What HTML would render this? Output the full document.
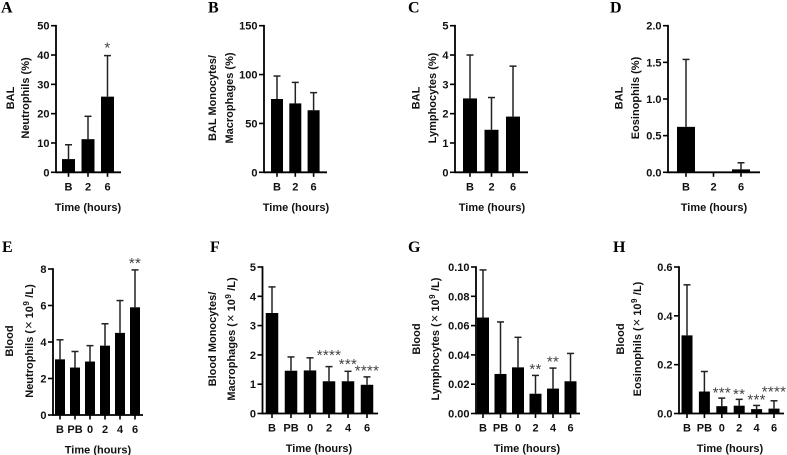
<!DOCTYPE html>
<html lang="en">
<head>
<meta charset="utf-8">
<title>Cell counts in BAL and blood over time</title>
<style>
html,body{margin:0;padding:0;background:#fff;width:787px;height:455px;overflow:hidden}
svg{display:block;filter:blur(0.35px)}
text{font-family:"Liberation Sans",sans-serif;font-weight:700;font-size:11px;fill:#111}
.letter{font-family:"Liberation Serif",serif;font-size:16px;fill:#000}
.star{font-weight:400;font-size:15px;fill:#444;letter-spacing:0.3px}
</style>
</head>
<body>
<svg id="figure" width="787" height="455" viewBox="0 0 787 455" xmlns="http://www.w3.org/2000/svg"></svg>
<script>
// ---- Data ----
const shortCats = ['B', '2', '6'];
const longCats = ['B', 'PB', '0', '2', '4', '6'];

const aTicks = ['0', '10', '20', '30', '40', '50'];
const aMeans = [4.5, 11.3, 25.8];
const aUpper = [9.4, 19.1, 39.8];
const aStars = ['', '', '*'];

const bTicks = ['0', '50', '100', '150'];
const bMeans = [75, 70.5, 63.5];
const bUpper = [98.5, 92, 81.5];
const bStars = ['', '', ''];

const cTicks = ['0', '1', '2', '3', '4', '5'];
const cMeans = [2.52, 1.45, 1.9];
const cUpper = [4.0, 2.55, 3.62];
const cStars = ['', '', ''];

const dTicks = ['0.0', '0.5', '1.0', '1.5', '2.0'];
const dMeans = [0.62, 0, 0.04];
const dUpper = [1.54, 0, 0.13];
const dStars = ['', '', ''];

const eTicks = ['0', '2', '4', '6', '8'];
const eMeans = [3.05, 2.6, 2.93, 3.8, 4.5, 5.9];
const eUpper = [4.12, 3.48, 3.8, 5.0, 6.27, 7.95];
const eStars = ['', '', '', '', '', '**'];

const fTicks = ['0', '1', '2', '3', '4', '5'];
const fMeans = [3.43, 1.46, 1.47, 1.1, 1.1, 0.98];
const fUpper = [4.32, 1.93, 1.9, 1.6, 1.44, 1.25];
const fStars = ['', '', '', '****', '***', '****'];

const gTicks = ['0.00', '0.02', '0.04', '0.06', '0.08', '0.10'];
const gMeans = [0.0655, 0.027, 0.0315, 0.0135, 0.017, 0.022];
const gUpper = [0.098, 0.0625, 0.052, 0.026, 0.031, 0.041];
const gStars = ['', '', '', '**', '**', ''];

const hTicks = ['0.0', '0.2', '0.4', '0.6'];
const hMeans = [0.32, 0.09, 0.03, 0.032, 0.018, 0.02];
const hUpper = [0.527, 0.172, 0.063, 0.058, 0.033, 0.052];
const hStars = ['', '', '***', '**', '***', '****'];

// ---- Panel layout ----
const panels = [
  {id:'a', letter:'A', lx:1,   ly:12.5, ax:56,    xEnd:121, top:25.7, base:172.3, first:68.5, step:19.5, bw:13,   cats:shortCats, ticks:aTicks, means:aMeans, upper:aUpper, stars:aStars, starNudge:[0,0,-3], title:['BAL','Neutrophils (%)'], tx:[10,25], ty:98, timeX:88},
  {id:'b', letter:'B', lx:208, ly:12.5, ax:264,   xEnd:327, top:25.7, base:172.3, first:277,  step:18.3, bw:12,   cats:shortCats, ticks:bTicks, means:bMeans, upper:bUpper, stars:bStars, starNudge:[0,0,0], title:['BAL Monocytes/','Macrophages (%)'], tx:[212,229], ty:98, timeX:296},
  {id:'c', letter:'C', lx:408, ly:12.5, ax:455,   xEnd:528, top:25.7, base:172.3, first:470,  step:21.5, bw:14,   cats:shortCats, ticks:cTicks, means:cMeans, upper:cUpper, stars:cStars, starNudge:[0,0,0], title:['BAL','Lymphocytes (%)'], tx:[415.5,432], ty:98, timeX:492},
  {id:'d', letter:'D', lx:610, ly:12.5, ax:668,   xEnd:760, top:25.7, base:172.3, first:686,  step:27.5, bw:18,   cats:shortCats, ticks:dTicks, means:dMeans, upper:dUpper, stars:dStars, starNudge:[0,0,0], title:['BAL','Eosinophils (%)'], tx:[618.5,635], ty:98, timeX:714},
  {id:'e', letter:'E', lx:2,   ly:252,  ax:53,    xEnd:143, top:269,  base:415,   first:60,   step:15,   bw:10,   cats:longCats,  ticks:eTicks, means:eMeans, upper:eUpper, stars:eStars, starNudge:[0,0,0,0,0,-2], title:['Blood','Neutrophils (× 10^9/L)'], tx:[9,29], ty:341, timeX:98},
  {id:'f', letter:'F', lx:210, ly:252,  ax:262.5, xEnd:378, top:267,  base:413.5, first:272,  step:19,   bw:12.5, cats:longCats,  ticks:fTicks, means:fMeans, upper:fUpper, stars:fStars, starNudge:[0,0,0,-6.5,-2.5,-1.5], title:['Blood Monocytes/','Macrophages (× 10^9/L)'], tx:[212,231], ty:339, timeX:319},
  {id:'g', letter:'G', lx:408, ly:252,  ax:476,   xEnd:580, top:267,  base:413.5, first:483,  step:17.5, bw:12,   cats:longCats,  ticks:gTicks, means:gMeans, upper:gUpper, stars:gStars, starNudge:[0,0,0,-1.5,-1.5,0], title:['Blood','Lymphocytes (× 10^9/L)'], tx:[416,435], ty:339, timeX:527},
  {id:'h', letter:'H', lx:613, ly:252,  ax:679,   xEnd:784, top:267,  base:413.5, first:687,  step:17.4, bw:11,   cats:longCats,  ticks:hTicks, means:hMeans, upper:hUpper, stars:hStars, starNudge:[0,0,-0.5,-0.5,-1,-4.5], title:['Blood','Eosinophils (× 10^9/L)'], tx:[620,637], ty:339, timeX:730}
];

const NS = 'http://www.w3.org/2000/svg';
const figure = document.getElementById('figure');

function mk(parent, tag, attrs, content) {
  const el = document.createElementNS(NS, tag);
  for (const k in attrs) el.setAttribute(k, attrs[k]);
  if (content !== undefined) el.textContent = content;
  parent.appendChild(el);
  return el;
}

function fillTitle(el, line) {
  line.split(/(× 10|\^9)/).forEach(function (part) {
    if (part === '× 10') {
      mk(el, 'tspan', {'font-weight': '400', 'font-size': '13px', dx: '1'}, '×');
      mk(el, 'tspan', {dx: '3'}, '10');
    } else if (part === '^9') {
      mk(el, 'tspan', {dy: '-4', 'font-size': '8px', dx: '0.5'}, '9');
      mk(el, 'tspan', {dy: '4', dx: '2.5'}, '\u200a');
    } else if (part) {
      mk(el, 'tspan', {}, part);
    }
  });
}

panels.forEach(function (p) {
  const maxVal = parseFloat(p.ticks[p.ticks.length - 1]);
  const y = function (v) { return p.base - (v / maxVal) * (p.base - p.top); };
  const x = function (i) { return p.first + i * p.step; };

  const g = mk(figure, 'g', {});
  
  

  const letter = mk(g, 'text', {x: p.lx, y: p.ly, class: 'letter'}, p.letter);
  
  

  // bars and error bars
  p.means.forEach(function (m, i) {
    const cx = x(i);
    const capY = y(p.upper[i]);
    if (p.upper[i] > m) {
      const stem = mk(g, 'line', {x1: cx, x2: cx, y1: y(m), y2: capY, stroke: '#222', 'stroke-width': 1.5});
      
      
      const cap = mk(g, 'line', {x1: cx - 3.5, x2: cx + 3.5, y1: capY, y2: capY, stroke: '#222', 'stroke-width': 1.5});
      
      
    }
    const bar = mk(g, 'rect', {x: cx - p.bw / 2, y: y(m), width: p.bw, height: p.base - y(m), fill: '#000'});
    
    

    if (p.stars[i]) {
      const star = mk(g, 'text', {x: cx, y: capY + p.starNudge[i], 'text-anchor': 'middle', class: 'star'}, p.stars[i]);
      
      
    }

    const tick = mk(g, 'line', {x1: cx, x2: cx, y1: p.base, y2: p.base + 4.5, stroke: '#000', 'stroke-width': 1.6});
    
    

    const lab = mk(g, 'text', {x: cx, y: p.base + 18, 'text-anchor': 'middle'}, p.cats[i]);
    
    
  });

  // axes
  const yAxis = mk(g, 'line', {x1: p.ax, x2: p.ax, y1: p.top - 0.8, y2: p.base + 0.8, stroke: '#000', 'stroke-width': 1.8});
  
  
  const xAxis = mk(g, 'line', {x1: p.ax, x2: p.xEnd, y1: p.base, y2: p.base, stroke: '#000', 'stroke-width': 1.8});
  
  

  p.ticks.forEach(function (t) {
    const ty = y(parseFloat(t));
    const tick = mk(g, 'line', {x1: p.ax - 5, x2: p.ax, y1: ty, y2: ty, stroke: '#000', 'stroke-width': 1.6});
    
    
    const lab = mk(g, 'text', {x: p.ax - 6.5, y: ty + 4, 'text-anchor': 'end'}, t);
    
    
  });

  // axis titles
  p.title.forEach(function (line, i) {
    const tx = p.tx[i] + 3.8;
    const title = mk(g, 'text', {x: tx, y: p.ty, 'text-anchor': 'middle', transform: 'rotate(-90 ' + tx + ' ' + p.ty + ')'});
    fillTitle(title, line);
    
    
  });

  const time = mk(g, 'text', {x: p.timeX, y: p.base + 38.5, 'text-anchor': 'middle'}, 'Time (hours)');
  
  
});
</script>
</body>
</html>
